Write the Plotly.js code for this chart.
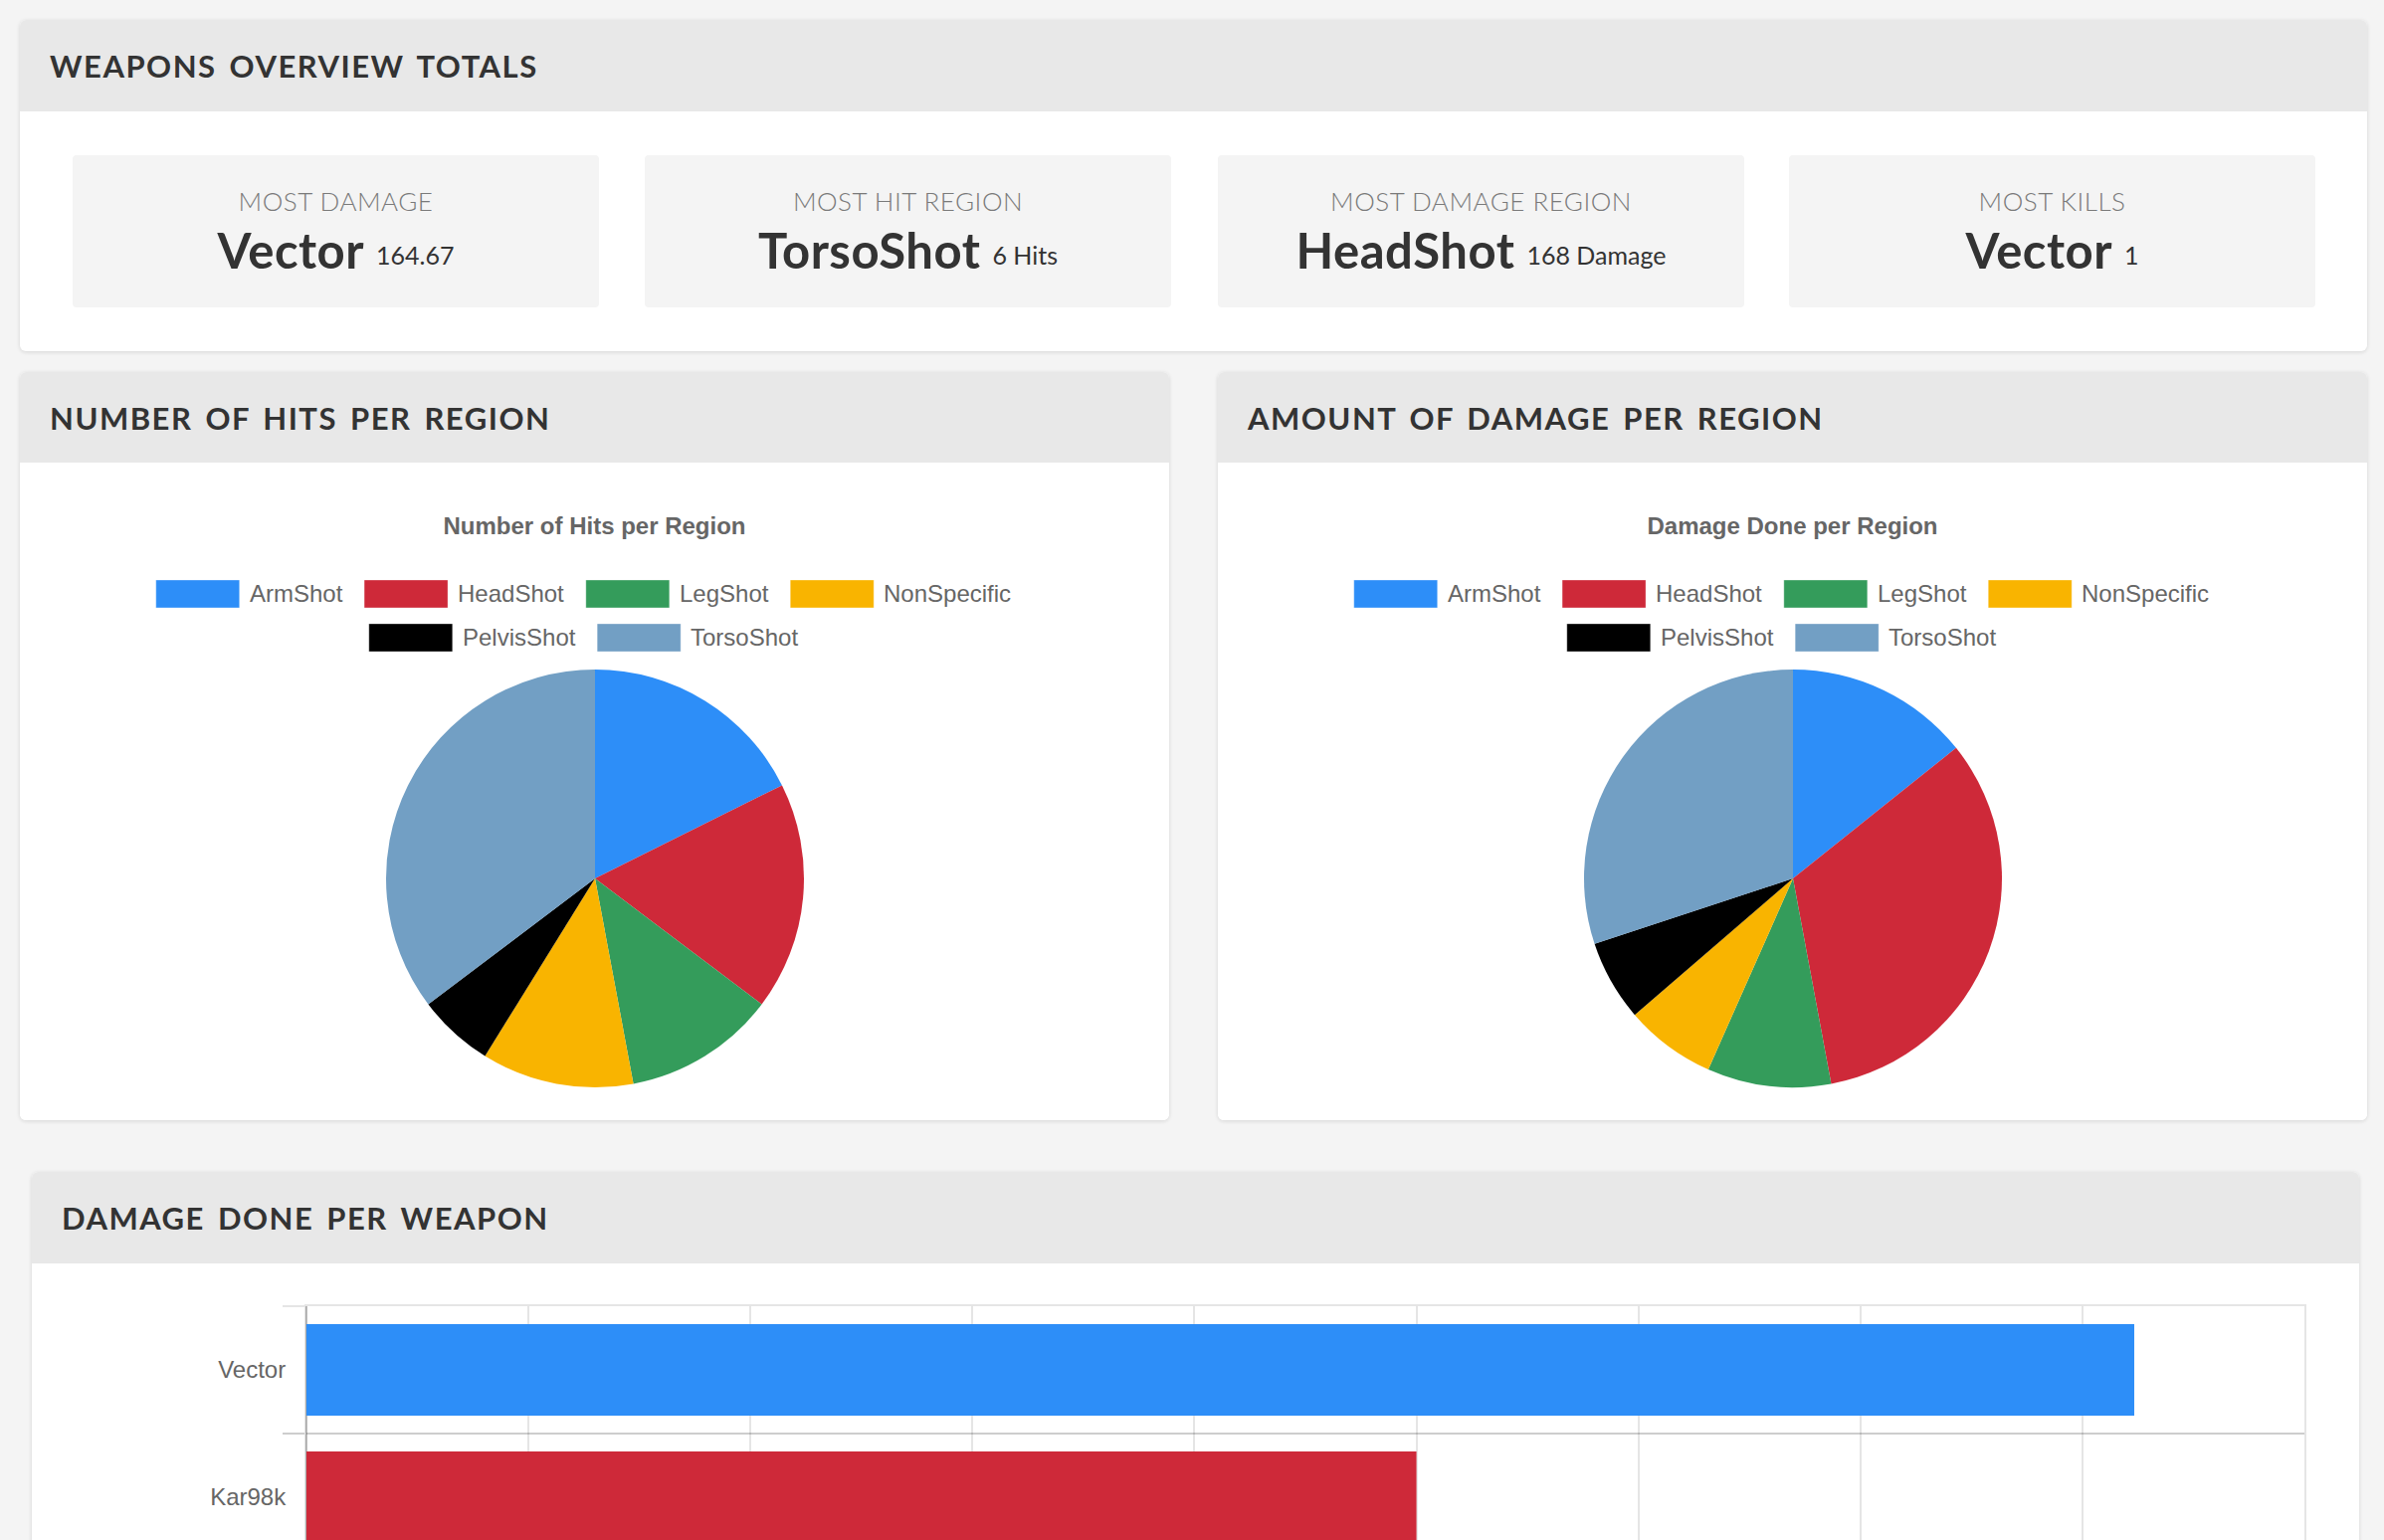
<!DOCTYPE html>
<html>
<head>
<meta charset="utf-8">
<script src="https://cdn.plot.ly/plotly-3.0.1.min.js"></script>
<style>
  html, body { margin: 0; padding: 0; background: #f4f4f4; }
  body { width: 2396px; height: 1548px; overflow: hidden; position: relative; font-family: Lato, "Noto Sans", sans-serif; }
  .card { position: absolute; background: #fff; border-radius: 6px; box-shadow: 0 1px 4px rgba(0,0,0,0.13); overflow: hidden; }
  .card-head { position: absolute; left: 0; top: 0; right: 0; background: #e8e8e8; color: #333;
    font-family: Lato, sans-serif; font-weight: 700; font-size: 31px; letter-spacing: 1.5px; word-spacing: 4px; text-transform: uppercase; white-space: nowrap; }
  .card-head span { position: absolute; left: 30px; top: 50%; transform: translateY(-50%); }
  .stat { position: absolute; top: 136px; width: 529px; height: 153px; background: #f4f4f4; border-radius: 4px; text-align: center; }
  .stat .lab { position: absolute; left: 0; right: 0; top: 46px; transform: translateY(-50%); font-size: 26px; font-weight: 300; color: #7a7a7a; letter-spacing: 0.5px; text-transform: uppercase; white-space: nowrap; }
  .stat .val { position: absolute; left: 0; right: 0; top: 95px; transform: translateY(-50%); white-space: nowrap; color: #333; }
  .stat .big { font-size: 49px; font-weight: 700; letter-spacing: 0.5px; }
  .stat .small { font-size: 25px; font-weight: 400; margin-left: 12px; position: relative; top: -4px; }
  .plot { position: absolute; left: 0; }
</style>
</head>
<body>
<div class="card" id="card-totals" style="left:20px; top:20px; width:2359px; height:333px;">
  <div class="card-head" style="height:92px;"><span id="head-totals"></span></div>
</div>
<div class="card" style="left:20px; top:374px; width:1155px; height:752px;">
  <div class="card-head" style="height:91px;"><span id="head-hits"></span></div>
  <div class="plot" id="pie-hits" style="top:91px; width:1155px; height:661px;"></div>
</div>
<div class="card" style="left:1224px; top:374px; width:1155px; height:752px;">
  <div class="card-head" style="height:91px;"><span id="head-dmg"></span></div>
  <div class="plot" id="pie-dmg" style="top:91px; width:1155px; height:661px;"></div>
</div>
<div class="card" style="left:32px; top:1178px; width:2339px; height:470px;">
  <div class="card-head" style="height:92px;"><span id="head-weapon"></span></div>
  <div class="plot" id="bar-weapon" style="top:92px; width:2339px; height:359px;"></div>
</div>

<script>
// ---------------- data ----------------
const cardTitles = ['Weapons Overview Totals', 'Number of Hits per Region', 'Amount of Damage per Region', 'Damage Done per Weapon'];

const statTitles = ['Most Damage', 'Most Hit Region', 'Most Damage Region', 'Most Kills'];
const statNames  = ['Vector', 'TorsoShot', 'HeadShot', 'Vector'];
const statNotes  = ['164.67', '6 Hits', '168 Damage', '1'];

const regions = ['ArmShot', 'HeadShot', 'LegShot', 'NonSpecific', 'PelvisShot', 'TorsoShot'];
const regionColors = ['#2d8ef8', '#ce2939', '#349c5b', '#f9b400', '#000000', '#729fc4'];
const hitsPerRegion = [3, 3, 2, 2, 1, 6];
const damagePerRegion = [73, 168, 49, 36, 32, 154];

const weapons = ['Vector', 'Kar98k'];
const weaponColors = ['#2d8ef8', '#ce2939'];
const damagePerWeapon = [164.67, 100];

const pieTitles = ['Number of Hits per Region', 'Damage Done per Region'];
const damageTicks = [0, 20, 40, 60, 80, 100, 120, 140, 160, 180];

// ---------------- html text ----------------
document.getElementById('head-totals').textContent = cardTitles[0];
document.getElementById('head-hits').textContent = cardTitles[1];
document.getElementById('head-dmg').textContent = cardTitles[2];
document.getElementById('head-weapon').textContent = cardTitles[3];

const statLefts = [53, 628, 1204, 1778];
const totals = document.getElementById('card-totals');
statTitles.forEach((t, i) => {
  const box = document.createElement('div');
  box.className = 'stat';
  box.style.left = statLefts[i] + 'px';
  const lab = document.createElement('div'); lab.className = 'lab'; lab.textContent = t;
  const val = document.createElement('div'); val.className = 'val';
  const big = document.createElement('span'); big.className = 'big'; big.textContent = statNames[i];
  const sm = document.createElement('span'); sm.className = 'small'; sm.textContent = statNotes[i];
  val.appendChild(big); val.appendChild(sm);
  box.appendChild(lab); box.appendChild(val);
  totals.appendChild(box);
});

// ---------------- pies ----------------
const LEG_FONT = 24, LEG_FAMILY = '"Liberation Sans", Arial, Helvetica, sans-serif';
const BOX_W = 84, BOX_H = 28, BOX_GAP = 11, ITEM_PAD = 21;
const measureCtx = document.createElement('canvas').getContext('2d');
measureCtx.font = LEG_FONT + 'px "Liberation Sans"';

function legendLayout(W, H, maxWidth, firstRowY, rowStep) {
  // Chart.js style centered, wrapping legend built from shapes + annotations
  const items = regions.map((r, i) => ({ name: r, color: regionColors[i], w: BOX_W + BOX_GAP + measureCtx.measureText(r).width }));
  const rows = [[]]; let lw = [0];
  items.forEach(it => {
    const r = rows.length - 1;
    if (lw[r] + it.w + ITEM_PAD > maxWidth && rows[r].length) { rows.push([]); lw.push(0); }
    rows[rows.length - 1].push(it); lw[lw.length - 1] += it.w + ITEM_PAD;
  });
  const shapes = [], annotations = [];
  rows.forEach((row, ri) => {
    let x = (W - lw[ri]) / 2;
    const cy = firstRowY + ri * rowStep;
    row.forEach(it => {
      shapes.push({ type: 'rect', xref: 'paper', yref: 'paper', layer: 'above',
        x0: x / W, x1: (x + BOX_W) / W, y0: 1 - (cy - BOX_H / 2) / H, y1: 1 - (cy + BOX_H / 2) / H,
        fillcolor: it.color, line: { width: 1, color: 'rgba(255,255,255,0.35)' } });
      annotations.push({ xref: 'paper', yref: 'paper', x: (x + BOX_W + BOX_GAP - 2) / W, y: 1 - cy / H,
        xanchor: 'left', yanchor: 'middle', showarrow: false, text: it.name, borderpad: 0,
        font: { family: LEG_FAMILY, size: LEG_FONT, color: '#666' } });
      x += it.w + ITEM_PAD;
    });
  });
  return { shapes, annotations };
}

function drawPie(id, title, values) {
  const W = 1155, H = 661;
  const cx = 578, cy = 418, R = 210;
  const leg = legendLayout(W, H, 1060, 132, 44);
  const trace = {
    type: 'pie', labels: regions, values: values, sort: false, direction: 'clockwise', rotation: 0,
    marker: { colors: regionColors, line: { width: 0 } }, textinfo: 'none', hoverinfo: 'none', showlegend: false,
    domain: { x: [(cx - R) / W, (cx + R) / W], y: [1 - (cy + R) / H, 1 - (cy - R) / H] }
  };
  const layout = {
    width: W, height: H, margin: { l: 0, r: 0, t: 0, b: 0 },
    paper_bgcolor: '#fff', plot_bgcolor: '#fff', showlegend: false,
    title: { text: '<b>' + title + '</b>', x: 0.5, xanchor: 'center', y: 1 - 64 / H, yanchor: 'middle', yref: 'container',
      font: { family: LEG_FAMILY, size: 24, color: '#666' } },
    shapes: leg.shapes, annotations: leg.annotations
  };
  Plotly.newPlot(id, [trace], layout, { staticPlot: true, displayModeBar: false });
}
drawPie('pie-hits', pieTitles[0], hitsPerRegion);
drawPie('pie-dmg', pieTitles[1], damagePerRegion);

// ---------------- bars ----------------
(function () {
  const W = 2339, H = 359;
  const trace = {
    type: 'bar', orientation: 'h', y: weapons, x: damagePerWeapon,
    marker: { color: weaponColors, line: { width: 0 } }, hoverinfo: 'none', showlegend: false
  };
  const grid = 'rgba(0,0,0,0.1)';
  const layout = {
    width: W, height: H, margin: { l: 276, r: 55, t: 43, b: 60 },
    paper_bgcolor: '#fff', plot_bgcolor: '#fff', bargap: 0.28,
    xaxis: { range: [0, 180], tickvals: damageTicks, showgrid: true, gridcolor: grid, gridwidth: 2,
      zeroline: true, zerolinecolor: 'rgba(0,0,0,0.25)', zerolinewidth: 2,
      showline: true, mirror: true, linecolor: grid, linewidth: 2,
      ticks: 'outside', ticklen: 20, tickcolor: grid, tickwidth: 2, showticklabels: false,
      tickfont: { family: LEG_FAMILY, size: 24, color: '#666' }, fixedrange: true },
    yaxis: { type: 'category', autorange: 'reversed', tickson: 'boundaries', ticks: 'outside', ticklen: 22,
      tickcolor: grid, tickwidth: 2, showgrid: true, gridcolor: grid, gridwidth: 2, zeroline: false,
      showline: true, mirror: true, linecolor: grid, linewidth: 2, ticklabelstandoff: 14,
      tickfont: { family: LEG_FAMILY, size: 24, color: '#666' }, fixedrange: true }
  };
  Plotly.newPlot('bar-weapon', [trace], layout, { staticPlot: true, displayModeBar: false });
})();
</script>
</body>
</html>
